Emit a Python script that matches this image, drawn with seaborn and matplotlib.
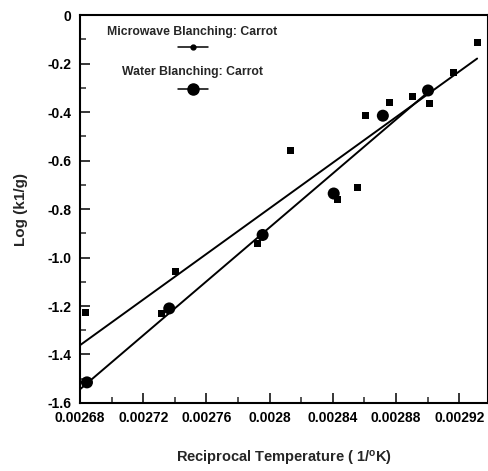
import numpy as np
import pandas as pd
import matplotlib
matplotlib.use("Agg")
import matplotlib.pyplot as plt
import seaborn as sns
from matplotlib.ticker import FixedLocator, MultipleLocator

# Rate constants vs reciprocal absolute temperature
microwave_x = [0.0026832, 0.0027314, 0.0027403, 0.0027924, 0.0028133, 0.0028432,
               0.0028559, 0.0028610, 0.0028762, 0.0028902, 0.0029010, 0.0029162,
               0.0029314]
microwave_y = [-1.228, -1.232, -1.058, -0.941, -0.560, -0.761,
               -0.710, -0.415, -0.361, -0.336, -0.365, -0.237,
               -0.112]

water_x = [0.0026844, 0.0027365, 0.0027956, 0.0028406, 0.0028717, 0.0029003]
water_y = [-1.515, -1.210, -0.907, -0.736, -0.415, -0.311]

series_names = ["Microwave Blanching: Carrot", "Water Blanching: Carrot"]

x_ticks = [0.00268, 0.00272, 0.00276, 0.00280, 0.00284, 0.00288, 0.00292]
x_tick_labels = ["0.00268", "0.00272", "0.00276", "0.0028", "0.00284", "0.00288", "0.00292"]
y_ticks = [0.0, -0.2, -0.4, -0.6, -0.8, -1.0, -1.2, -1.4, -1.6]
y_tick_labels = ["0", "-0.2", "-0.4", "-0.6", "-0.8", "-1.0", "-1.2", "-1.4", "-1.6"]

sns.set_theme(style="ticks")
plt.rcParams["font.family"] = ["Liberation Sans", "DejaVu Sans"]
plt.rcParams["font.weight"] = "bold"
plt.rcParams["axes.labelweight"] = "bold"
plt.rcParams["mathtext.default"] = "regular"

mw = pd.DataFrame({"x": microwave_x, "y": microwave_y})
wt = pd.DataFrame({"x": water_x, "y": water_y})

fig = plt.figure(figsize=(4.89, 4.71), dpi=100)
ax = fig.add_axes([0.1636, 0.1444, 0.8335, 0.8236])

x_left, x_right = 0.00268, 0.002938

# least-squares lines, drawn from the left axis edge to the last observation
for df in (mw, wt):
    slope, icpt = np.polyfit(df["x"], df["y"], 1)
    xs = np.array([x_left, df["x"].max()])
    ax.plot(xs, slope * xs + icpt, color="black", lw=1.4, zorder=2)

sns.scatterplot(data=mw, x="x", y="y", marker="s", s=26, color="black",
                edgecolor="none", ax=ax, zorder=3)
sns.scatterplot(data=wt, x="x", y="y", marker="o", s=75, color="black",
                edgecolor="none", ax=ax, zorder=3)

ax.set_xlim(x_left, x_right)
ax.set_ylim(-1.6, 0.0)

ax.xaxis.set_major_locator(FixedLocator(x_ticks))
ax.set_xticklabels(x_tick_labels)
ax.xaxis.set_minor_locator(MultipleLocator(0.00002))
ax.yaxis.set_major_locator(FixedLocator(y_ticks))
ax.set_yticklabels(y_tick_labels)
ax.yaxis.set_minor_locator(MultipleLocator(0.1))

ax.tick_params(axis="both", which="major", direction="in", length=7, width=1.1,
               labelsize=10, pad=6, colors="black")
ax.tick_params(axis="both", which="minor", direction="in", length=4, width=1.1)
for lab in ax.get_xticklabels() + ax.get_yticklabels():
    lab.set_fontweight("bold")

for sp in ax.spines.values():
    sp.set_visible(True)
    sp.set_linewidth(1.5)
    sp.set_color("black")

ax.set_xlabel("Reciprocal Temperature ( 1/$^{o}$K)", fontsize=10.5,
              fontweight="bold", labelpad=17)
ax.set_ylabel("Log (k1/g)", fontsize=11, fontweight="bold", labelpad=14)

# key: caption above each sample line
ax.text(0.275, 0.957, series_names[0], transform=ax.transAxes, ha="center",
        va="center", fontsize=8.8, fontweight="bold")
ax.plot([0.240, 0.314], [0.918, 0.918], transform=ax.transAxes, color="black", lw=1.1)
ax.plot([0.277], [0.918], transform=ax.transAxes, marker="o", ms=3.5, color="black")
ax.text(0.275, 0.853, series_names[1], transform=ax.transAxes, ha="center",
        va="center", fontsize=8.8, fontweight="bold")
ax.plot([0.240, 0.314], [0.809, 0.809], transform=ax.transAxes, color="black", lw=1.1)
ax.plot([0.277], [0.809], transform=ax.transAxes, marker="o", ms=8, color="black")

fig.savefig("out.png", dpi=100, facecolor="white")
